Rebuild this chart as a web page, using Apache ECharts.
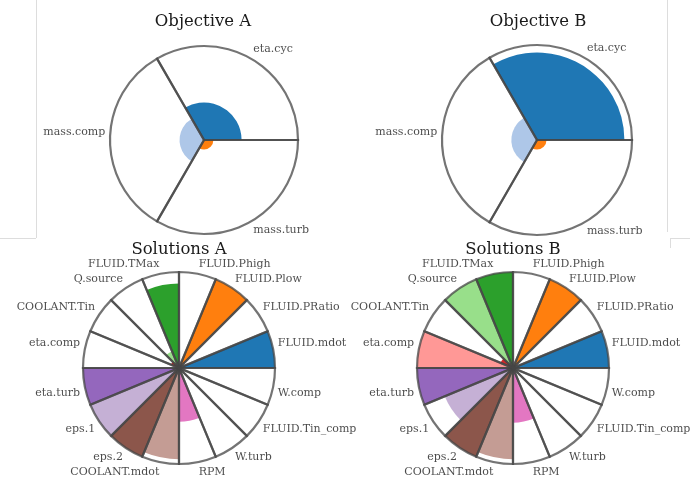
<!DOCTYPE html>
<html>
<head>
<meta charset="utf-8">
<script src="https://cdn.jsdelivr.net/npm/echarts@6/dist/echarts.min.js"></script>
<style>
  html, body { margin: 0; padding: 0; background: #ffffff; }
  #chart { width: 690px; height: 487px; }
</style>
</head>
<body>
<div id="chart"></div>
<script>
// Objective panels: three 120-degree sectors
const objectiveCategories = ['eta.cyc', 'mass.comp', 'mass.turb'];
const objectiveA = [0.40, 0.26, 0.10];
const objectiveB = [0.92, 0.27, 0.10];

// Solution panels: sixteen design variables
const solutionCategories = [
  'FLUID.mdot', 'FLUID.PRatio', 'FLUID.Plow', 'FLUID.Phigh',
  'FLUID.TMax', 'Q.source', 'COOLANT.Tin', 'eta.comp',
  'eta.turb', 'eps.1', 'eps.2', 'COOLANT.mdot',
  'RPM', 'W.turb', 'FLUID.Tin_comp', 'W.comp'
];
const solutionsA = [1.00, 0.00, 1.00, 0.00, 0.88, 0.19, 0.09, 0.00,
                    1.00, 1.00, 1.00, 0.95, 0.56, 0.00, 0.00, 0.00];
const solutionsB = [1.00, 0.00, 1.00, 0.00, 1.00, 1.00, 0.14, 1.00,
                    1.00, 0.77, 1.00, 0.95, 0.57, 0.00, 0.00, 0.00];

// Normalised radial scale
const radiusMax = 1;

// tab20 palette, one colour per sector
const tab20 = [
  '#1f77b4', '#aec7e8', '#ff7f0e', '#ffbb78', '#2ca02c', '#98df8a',
  '#d62728', '#ff9896', '#9467bd', '#c5b0d5', '#8c564b', '#c49c94',
  '#e377c2', '#f7b6d2', '#7f7f7f', '#c7c7c7', '#bcbd22', '#dbdb8d',
  '#17becf', '#9edae5'
];

const FONT = 'DejaVu Serif';

const panels = [
  { title: 'Objective A', cats: objectiveCategories, vals: objectiveA, center: [204, 140], r: 94, titlePos: [203, 22] },
  { title: 'Objective B', cats: objectiveCategories, vals: objectiveB, center: [537, 140], r: 95, titlePos: [538, 22] },
  { title: 'Solutions A', cats: solutionCategories, vals: solutionsA, center: [179, 368], r: 96, titlePos: [179, 250] },
  { title: 'Solutions B', cats: solutionCategories, vals: solutionsB, center: [513, 368], r: 96, titlePos: [513, 250] }
];

const polar = [], angleAxis = [], radiusAxis = [], series = [], graphic = [];

panels.forEach(function (p, i) {
  polar.push({ center: p.center, radius: [0, p.r] });
  angleAxis.push({
    polarIndex: i, type: 'category', data: p.cats,
    startAngle: 0, clockwise: false, boundaryGap: true,
    axisLine: { show: false }, axisTick: { show: false },
    axisLabel: { show: false }, splitLine: { show: false }
  });
  radiusAxis.push({ polarIndex: i, min: 0, max: radiusMax, show: false });

  // filled wedges
  series.push({
    type: 'bar', coordinateSystem: 'polar', polarIndex: i,
    barCategoryGap: '0%', barGap: '-100%', z: 2, silent: true,
    data: p.vals.map(function (v, k) {
      return { value: v, itemStyle: { color: tab20[k % tab20.length] } };
    })
  });

  // wedge outlines at full radius
  series.push({
    type: 'bar', coordinateSystem: 'polar', polarIndex: i,
    barCategoryGap: '0%', barGap: '-100%', z: 3, silent: true,
    itemStyle: { color: 'rgba(0,0,0,0)', borderColor: 'rgba(70,70,70,0.75)', borderWidth: 2.2 },
    data: p.cats.map(function () { return radiusMax; })
  });

  // sector names just outside the rim
  const n = p.cats.length;
  series.push({
    type: 'scatter', coordinateSystem: 'polar', polarIndex: i,
    symbolSize: 0, clip: false, silent: true, z: 4,
    data: p.cats.map(function (name, k) {
      const ang = (k + 0.5) * 2 * Math.PI / n;
      const c = Math.cos(ang), s = Math.sin(ang);
      return {
        name: name,
        value: [radiusMax * 1.05, k],
        label: {
          position: c >= -1e-6 ? 'right' : 'left',
          offset: [0, -Math.sign(Math.round(s * 1000)) * 5 - (Math.abs(s) < 1e-6 ? 8 : 0)]
        }
      };
    }),
    label: {
      show: true, formatter: '{b}', distance: 0,
      fontFamily: FONT, fontSize: 11, color: '#1c1c1c'
    }
  });

  graphic.push({
    type: 'text', x: p.titlePos[0], y: p.titlePos[1], silent: true,
    style: {
      text: p.title, fontFamily: FONT, fontSize: 16.5, fill: '#1a1a1a',
      textAlign: 'center', textVerticalAlign: 'middle'
    }
  });
});

// thin frame edges around the upper figure
const edge = { stroke: '#dddddd', lineWidth: 1 };
graphic.push(
  { type: 'line', silent: true, shape: { x1: 36.5, y1: 0, x2: 36.5, y2: 238 }, style: edge },
  { type: 'line', silent: true, shape: { x1: 0, y1: 238.5, x2: 36, y2: 238.5 }, style: edge },
  { type: 'line', silent: true, shape: { x1: 667.5, y1: 0, x2: 667.5, y2: 232 }, style: edge },
  { type: 'line', silent: true, shape: { x1: 670.5, y1: 238, x2: 670.5, y2: 248 }, style: edge },
  { type: 'line', silent: true, shape: { x1: 670, y1: 238.5, x2: 690, y2: 238.5 }, style: edge }
);

const chart = echarts.init(document.getElementById('chart'), null, { renderer: 'canvas' });
chart.setOption({
  animation: false,
  backgroundColor: '#ffffff',
  polar: polar,
  angleAxis: angleAxis,
  radiusAxis: radiusAxis,
  series: series,
  graphic: graphic
});
</script>
</body>
</html>
